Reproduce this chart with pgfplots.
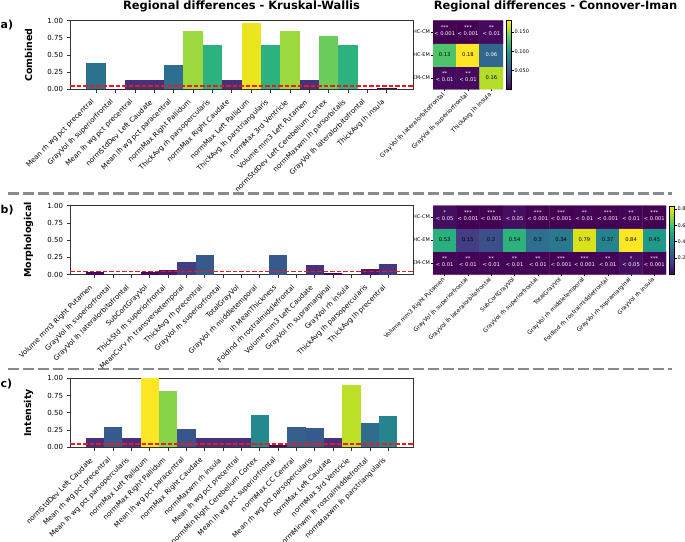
\documentclass[border=0pt]{standalone}
\usepackage{fontspec}
\setmainfont{DejaVu Sans}
\usepackage{pgfplots}
\pgfplotsset{compat=1.18}
\newcommand{\fs}[1]{\fontsize{#1pt}{#1pt}\selectfont}
\definecolor{sepc}{HTML}{848C90}
\definecolor{redl}{RGB}{240,24,24}
\definecolor{v000}{HTML}{440154}
\definecolor{v002}{HTML}{45065A}
\definecolor{v003}{HTML}{46085C}
\definecolor{v035}{HTML}{46095D}
\definecolor{v004}{HTML}{460B5E}
\definecolor{v007}{HTML}{481A6C}
\definecolor{v008}{HTML}{481C6E}
\definecolor{v014}{HTML}{46317E}
\definecolor{v016}{HTML}{453781}
\definecolor{v018}{HTML}{433E84}
\definecolor{v026}{HTML}{3A548C}
\definecolor{v028}{HTML}{375A8C}
\definecolor{v0285}{HTML}{375B8D}
\definecolor{v029}{HTML}{365C8D}
\definecolor{v030}{HTML}{355F8D}
\definecolor{v035b}{HTML}{2F6C8E}
\definecolor{v036}{HTML}{2E6E8E}
\definecolor{v038}{HTML}{2C728E}
\definecolor{v045}{HTML}{25848E}
\definecolor{v047}{HTML}{23898E}
\definecolor{v064}{HTML}{2CB27E}
\definecolor{v077}{HTML}{69CC5B}
\definecolor{v082}{HTML}{87D449}
\definecolor{v085}{HTML}{9BD93C}
\definecolor{v090}{HTML}{BDDF26}
\definecolor{v097}{HTML}{EBE51D}
\definecolor{v100}{HTML}{FDE725}
\pgfplotsset{
 colormap={vir}{rgb255=(68,1,84) rgb255=(71,19,101) rgb255=(72,36,117) rgb255=(70,52,128) rgb255=(65,68,135) rgb255=(59,82,139) rgb255=(53,95,141) rgb255=(47,108,142) rgb255=(42,120,142) rgb255=(37,132,142) rgb255=(33,145,140) rgb255=(30,156,137) rgb255=(34,168,132) rgb255=(47,180,124) rgb255=(68,191,112) rgb255=(94,201,98) rgb255=(122,209,81) rgb255=(155,217,60) rgb255=(189,223,38) rgb255=(223,227,24) rgb255=(253,231,37)},
 barax/.style={
  scale only axis, width=343bp, ymin=0, ymax=1, xmin=-1.35, anchor=north west,
  axis line style={black!80, line width=0.8bp},
  tick align=outside, xtick pos=bottom, ytick pos=left,
  major tick length=3.5bp, tick style={black!80, line width=0.8bp},
  ytick={0,0.25,0.5,0.75,1}, scaled y ticks=false,
  yticklabel style={font=\fs{7}, /pgf/number format/fixed, /pgf/number format/fixed zerofill, /pgf/number format/precision=2, /pgf/number format/assume math mode=true},
  xticklabel style={font=\fs{7}, yshift=-7.5bp, xshift=-2.5bp, rotate=45, anchor=east, inner sep=1bp},
 },
 hm/.style={
  scale only axis, ymin=-0.5, ymax=2.5, anchor=north west,
  colormap name=vir, axis line style={draw=none},
  tick align=outside, xtick pos=bottom, ytick pos=left, major tick length=2bp, tick style={black, line width=0.5bp},
  ytick={0,1,2}, yticklabels={EM-CM,HC-EM,HC-CM},
  yticklabel style={font=\fs{5}, inner sep=1bp},
  xticklabel style={font=\fs{6}, yshift=-2bp, rotate=45, anchor=east, inner sep=1bp},
  colorbar, colorbar shift/.style={},
  colorbar style={width=5bp, at={(parent axis.north east)}, anchor=north west, xshift=3.5bp,
    tick align=outside, ytick pos=right, yticklabel pos=right, major tick length=2bp,
    tick style={black, line width=0.4bp}, axis line style={black, line width=0.4bp},
    yticklabel style={font=\fs{5}, inner sep=1bp, /pgf/number format/fixed, /pgf/number format/fixed zerofill, /pgf/number format/assume math mode=true}},
 },
}
\newcommand{\B}[3]{\addplot[ybar, bar width=1, bar shift=0pt, fill=#3, draw=none] coordinates {(#1,#2)};}
\newcommand{\Cs}[5]{\node[align=center, text=#5, font=\fontsize{5.2pt}{5.8pt}\selectfont, inner sep=0pt, yshift=1.2bp] at (axis cs:#1,#2) {#3\\#4};}
\newcommand{\Cv}[4]{\node[text=#4, font=\fs{5.2}, inner sep=0pt] at (axis cs:#1,#2) {#3};}
\begin{document}
\begin{tikzpicture}[x=1bp, y=1bp]
\useasboundingbox (0,0) rectangle (685,-542);
% titles
\node[font=\bfseries\fs{11.5}, anchor=base] at (241.5,-9.5) {Regional differences - Kruskal-Wallis};
\node[font=\bfseries\fs{11.5}, anchor=base] at (555.5,-9.5) {Regional differences - Connover-Iman};
% panel labels
\node[font=\bfseries\fs{11}, anchor=base west, inner sep=0pt] at (0.5,-28.5) {a)};
\node[font=\bfseries\fs{11}, anchor=base west, inner sep=0pt] at (0.5,-213.5) {b)};
\node[font=\bfseries\fs{11}, anchor=base west, inner sep=0pt] at (0.5,-387) {c)};
\node[font=\bfseries\fs{9.5}, rotate=90] at (28.5,-55) {Combined};
\node[font=\bfseries\fs{9.5}, rotate=90] at (28.5,-240) {Morphological};
\node[font=\bfseries\fs{9.5}, rotate=90] at (28.5,-413) {Intensity};
% separators
\draw[sepc, line width=2.5bp, dash pattern=on 10.5bp off 4.5bp] (8,-193.3) -- (672,-193.3);
\draw[sepc, line width=2.5bp, dash pattern=on 10.5bp off 4.5bp] (8,-369) -- (672,-369);

% ---------------- panel a bars
\begin{axis}[barax, at={(70bp,-20.7bp)}, height=68.6bp, xmax=16.35,
  xtick={0,...,15},
  xticklabels={Mean rh wg pct precentral, GrayVol lh superiorfrontal, Mean lh wg pct precentral, normStdDev Left Caudate, Mean lh wg pct paracentral, normMax Right Pallidum, ThickAvg rh parsopercularis, normMax Right Caudate, normMax Left Pallidum, ThickAvg lh parstriangularis, normMax 3rd Ventricle, Volume mm3 Left Putamen, normStdDev Left Cerebellum Cortex, normMaxwm lh parsorbitalis, GrayVol lh lateralorbitofrontal, ThickAvg lh insula}]
\B{0}{0.38}{v038}
\B{1}{0.001}{v000}
\B{2}{0.14}{v014}
\B{3}{0.14}{v014}
\B{4}{0.36}{v036}
\B{5}{0.85}{v085}
\B{6}{0.64}{v064}
\B{7}{0.14}{v014}
\B{8}{0.97}{v097}
\B{9}{0.64}{v064}
\B{10}{0.85}{v085}
\B{11}{0.14}{v014}
\B{12}{0.77}{v077}
\B{13}{0.64}{v064}
\B{14}{0.001}{v000}
\B{15}{0.02}{v002}
\addplot[draw=redl, line width=1.4bp, dash pattern=on 4.5bp off 2bp] table[row sep=\\] {x y\\ -1.35 0.05\\ 16.35 0.05\\};
\node[font=\fs{9.5}] at (axis description cs:-0.086,0.5) {P};
\end{axis}

% ---------------- panel a heatmap
\begin{axis}[hm, at={(433bp,-20.7bp)}, width=70bp, height=68.6bp, xmin=-0.5, xmax=2.5,
  xtick={0,1,2}, xticklabels={GrayVol lh lateralorbitofrontal, GrayVol lh superiorfrontal, ThickAvg lh insula},
  point meta min=0.0005, point meta max=0.18,
  colorbar style={ytick={0.05,0.1,0.15}, yticklabel style={/pgf/number format/precision=3}}]
\addplot[matrix plot*, mesh/cols=3, point meta=explicit] table[meta=p] {
x y p
0 0 0.005
1 0 0.005
2 0 0.16
0 1 0.13
1 1 0.18
2 1 0.06
0 2 0.0005
1 2 0.0005
2 2 0.005
};
\Cs{0}{2}{***}{< 0.001}{white}
\Cs{1}{2}{***}{< 0.001}{white}
\Cs{2}{2}{**}{< 0.01}{white}
\Cv{0}{1}{0.13}{black}
\Cv{1}{1}{0.18}{black}
\Cv{2}{1}{0.06}{white}
\Cs{0}{0}{**}{< 0.01}{white}
\Cs{1}{0}{**}{< 0.01}{white}
\Cv{2}{0}{0.16}{black}
\end{axis}

% ---------------- panel b bars
\begin{axis}[barax, at={(70bp,-205.7bp)}, height=69bp, xmax=17.35,
  xtick={0,...,16},
  xticklabels={Volume mm3 Right Putamen, GrayVol lh superiorfrontal, GrayVol lh lateralorbitofrontal, SubCortGrayVol, ThickStd rh superiorfrontal, MeanCurv rh transversetemporal, ThickAvg rh precentral, GrayVol rh superiorfrontal, TotalGrayVol, GrayVol rh middletemporal, lh MeanThickness, FoldInd rh rostralmiddlefrontal, Volume mm3 Left Caudate, GrayVol rh supramarginal, GrayVol rh insula, ThickAvg lh parsopercularis, ThickAvg lh precentral}]
\B{0}{0.035}{v035}
\B{1}{0.001}{v000}
\B{2}{0.001}{v000}
\B{3}{0.04}{v004}
\B{4}{0.07}{v007}
\B{5}{0.18}{v018}
\B{6}{0.28}{v028}
\B{7}{0.001}{v000}
\B{8}{0.001}{v000}
\B{9}{0.001}{v000}
\B{10}{0.28}{v028}
\B{11}{0.001}{v000}
\B{12}{0.14}{v014}
\B{13}{0.03}{v003}
\B{14}{0.001}{v000}
\B{15}{0.08}{v008}
\B{16}{0.16}{v016}
\addplot[draw=redl, line width=1.4bp, dash pattern=on 4.5bp off 2bp] table[row sep=\\] {x y\\ -1.35 0.05\\ 17.35 0.05\\};
\node[font=\fs{9.5}] at (axis description cs:-0.086,0.5) {P};
\end{axis}

% ---------------- panel b heatmap
\begin{axis}[hm, at={(433bp,-205.7bp)}, width=233bp, height=68.6bp, xmin=-0.5, xmax=9.5,
  xtick={0,...,9}, xticklabel style={font=\fs{5.8}},
  xticklabels={Volume mm3 Right Putamen, GrayVol lh superiorfrontal, GrayVol lh lateralorbitofrontal, SubCortGrayVol, GrayVol rh superiorfrontal, TotalGrayVol, GrayVol rh middletemporal, FoldInd rh rostralmiddlefrontal, GrayVol rh supramarginal, GrayVol rh insula},
  point meta min=0.0005, point meta max=0.84,
  colorbar style={ytick={0.2,0.4,0.6,0.8}, yticklabel style={/pgf/number format/precision=1}}]
\addplot[matrix plot*, mesh/cols=10, point meta=explicit] table[meta=p] {
x y p
0 0 0.005
1 0 0.005
2 0 0.005
3 0 0.005
4 0 0.005
5 0 0.0005
6 0 0.0005
7 0 0.005
8 0 0.03
9 0 0.0005
0 1 0.53
1 1 0.15
2 1 0.2
3 1 0.54
4 1 0.3
5 1 0.34
6 1 0.79
7 1 0.37
8 1 0.84
9 1 0.45
0 2 0.03
1 2 0.0005
2 2 0.0005
3 2 0.03
4 2 0.0005
5 2 0.0005
6 2 0.005
7 2 0.0005
8 2 0.005
9 2 0.0005
};
\Cs{0}{2}{*}{< 0.05}{white}
\Cs{1}{2}{***}{< 0.001}{white}
\Cs{2}{2}{***}{< 0.001}{white}
\Cs{3}{2}{*}{< 0.05}{white}
\Cs{4}{2}{***}{< 0.001}{white}
\Cs{5}{2}{***}{< 0.001}{white}
\Cs{6}{2}{**}{< 0.01}{white}
\Cs{7}{2}{***}{< 0.001}{white}
\Cs{8}{2}{**}{< 0.01}{white}
\Cs{9}{2}{***}{< 0.001}{white}
\Cv{0}{1}{0.53}{black}
\Cv{1}{1}{0.15}{black}
\Cv{2}{1}{0.2}{black}
\Cv{3}{1}{0.54}{black}
\Cv{4}{1}{0.3}{black}
\Cv{5}{1}{0.34}{black}
\Cv{6}{1}{0.79}{black}
\Cv{7}{1}{0.37}{black}
\Cv{8}{1}{0.84}{black}
\Cv{9}{1}{0.45}{black}
\Cs{0}{0}{**}{< 0.01}{white}
\Cs{1}{0}{**}{< 0.01}{white}
\Cs{2}{0}{**}{< 0.01}{white}
\Cs{3}{0}{**}{< 0.01}{white}
\Cs{4}{0}{**}{< 0.01}{white}
\Cs{5}{0}{***}{< 0.001}{white}
\Cs{6}{0}{***}{< 0.001}{white}
\Cs{7}{0}{**}{< 0.01}{white}
\Cs{8}{0}{*}{< 0.05}{white}
\Cs{9}{0}{***}{< 0.001}{white}
\end{axis}

% ---------------- panel c bars
\begin{axis}[barax, at={(70bp,-378.3bp)}, height=69bp, xmax=17.35,
  xtick={0,...,16},
  xticklabels={normStdDev Left Caudate, Mean rh wg pct precentral, Mean lh wg pct parsopercularis, normMax Left Pallidum, normMax Right Pallidum, Mean lh wg pct paracentral, normMax Right Caudate, normMaxwm rh insula, Mean lh wg pct precentral, normMin Right Cerebellum Cortex, Mean lh wg pct superiorfrontal, normMax CC Central, Mean rh wg pct parsopercularis, normMax Left Caudate, normMax 3rd Ventricle, normMinwm lh rostralmiddlefrontal, normMaxwm lh parstriangularis}]
\B{0}{0.14}{v014}
\B{1}{0.29}{v029}
\B{2}{0.14}{v014}
\B{3}{1.00}{v100}
\B{4}{0.82}{v082}
\B{5}{0.26}{v026}
\B{6}{0.14}{v014}
\B{7}{0.14}{v014}
\B{8}{0.14}{v014}
\B{9}{0.47}{v047}
\B{10}{0.04}{v004}
\B{11}{0.30}{v030}
\B{12}{0.285}{v0285}
\B{13}{0.14}{v014}
\B{14}{0.90}{v090}
\B{15}{0.35}{v035b}
\B{16}{0.45}{v045}
\addplot[draw=redl, line width=1.4bp, dash pattern=on 4.5bp off 2bp] table[row sep=\\] {x y\\ -1.35 0.05\\ 17.35 0.05\\};
\node[font=\fs{9.5}] at (axis description cs:-0.086,0.5) {P};
\end{axis}
\end{tikzpicture}
\end{document}
